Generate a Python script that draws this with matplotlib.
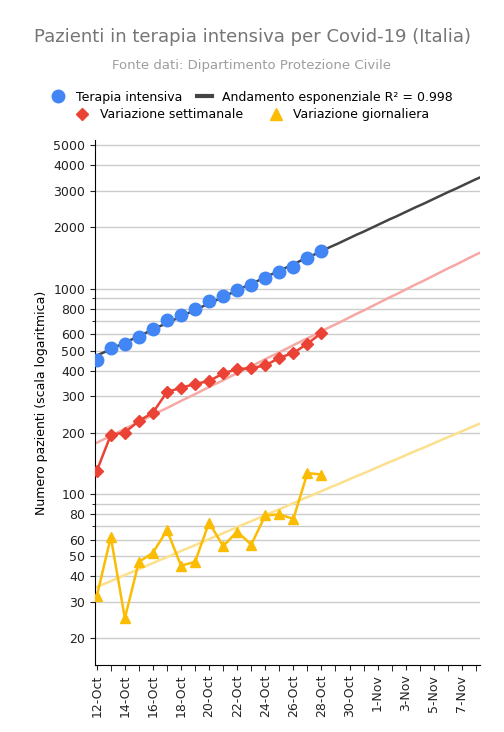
import matplotlib
matplotlib.use('Agg')
import matplotlib.pyplot as plt
import matplotlib.dates as mdates
from matplotlib.ticker import FixedLocator, NullFormatter
import numpy as np

dates = np.arange(np.datetime64('2020-10-12'), np.datetime64('2020-10-29'))
terapia = [452, 514, 539, 586, 638, 705, 750, 797, 870, 926, 992, 1049, 1128, 1208, 1284, 1411, 1536]
settimanale = [130, 195, 200, 228, 250, 315, 330, 345, 356, 388, 407, 412, 424, 462, 488, 541, 610]
giornaliera = [32, 62, 25, 47, 52, 67, 45, 47, 73, 56, 66, 57, 79, 80, 76, 127, 125]
yticks = [20, 30, 40, 50, 60, 80, 100, 200, 300, 400, 500, 600, 800, 1000, 2000, 3000, 4000, 5000]

fig = plt.figure(figsize=(5.04, 7.32), dpi=100)
ax = fig.add_axes([95/504, 67/732, 385/504, 525/732])

x = np.arange(len(dates))
xf = np.linspace(-0.2, 27.4, 60)
fdates = np.datetime64('2020-10-12') + np.round(xf * 24).astype(int).astype('timedelta64[h]')

def fit(vals):
    p = np.polyfit(x, np.log(vals), 1)
    return np.exp(np.polyval(p, xf))

ax.plot(fdates, fit(terapia), color='#444444', lw=1.8, zorder=2)
ax.plot(fdates, fit(settimanale), color='#f4a9a3', lw=1.8, zorder=2)
ax.plot(fdates, fit(giornaliera), color='#fce08e', lw=1.8, zorder=2)
ax.plot(dates, terapia, 'o', color='#4285f4', ms=9, zorder=4)
ax.plot(dates, settimanale, '-D', color='#ea4335', ms=6, lw=1.8, zorder=3)
ax.plot(dates, giornaliera, '-^', color='#fbbc04', ms=7, lw=1.8, zorder=3)

ax.set_yscale('log')
ax.set_ylim(14.8, 5300)
ax.yaxis.set_major_locator(FixedLocator(yticks))
ax.yaxis.set_major_formatter(matplotlib.ticker.FixedFormatter([str(v) for v in yticks]))
ax.yaxis.set_minor_locator(FixedLocator([70, 90, 700, 900]))
ax.yaxis.set_minor_formatter(NullFormatter())
ax.grid(True, which='both', axis='y', color='#cccccc', lw=1)
ax.set_xlim(np.datetime64('2020-10-11T21'), np.datetime64('2020-11-08T07'))
ax.xaxis.set_major_locator(mdates.DayLocator(bymonthday=[12,14,16,18,20,22,24,26,28,30,1,3,5,7]))
ax.xaxis.set_major_formatter(mdates.DateFormatter('%-d-%b'))
ax.xaxis.set_minor_locator(mdates.DayLocator())
plt.setp(ax.get_xticklabels(), rotation=90)
ax.tick_params(axis='both', labelsize=9, colors='#222222')
ax.tick_params(which='minor', axis='x', length=4)
for s in ['top', 'right']:
    ax.spines[s].set_visible(False)
ax.set_ylabel('Numero pazienti (scala logaritmica)', fontsize=9)

fig.text(0.5, 0.942, 'Pazienti in terapia intensiva per Covid-19 (Italia)', ha='center', fontsize=13, color='#757575')
fig.text(0.5, 0.906, 'Fonte dati: Dipartimento Protezione Civile', ha='center', fontsize=9.5, color='#9e9e9e')

h = [plt.Line2D([], [], marker='o', ls='', color='#4285f4', ms=9),
     plt.Line2D([], [], color='#444444', lw=3),
     plt.Line2D([], [], marker='D', ls='', color='#ea4335', ms=6),
     plt.Line2D([], [], marker='^', ls='', color='#fbbc04', ms=8)]
fig.legend(h[:2], ['Terapia intensiva', 'Andamento esponenziale R² = 0.998'], loc='center',
           bbox_to_anchor=(0.5, 0.867), ncol=2, frameon=False, fontsize=9, handlelength=1.2, columnspacing=1.2)
fig.legend(h[2:], ['Variazione settimanale', 'Variazione giornaliera'], loc='center',
           bbox_to_anchor=(0.5, 0.843), ncol=2, frameon=False, fontsize=9, handlelength=1.2, columnspacing=2)

fig.savefig('out.png', dpi=100)
